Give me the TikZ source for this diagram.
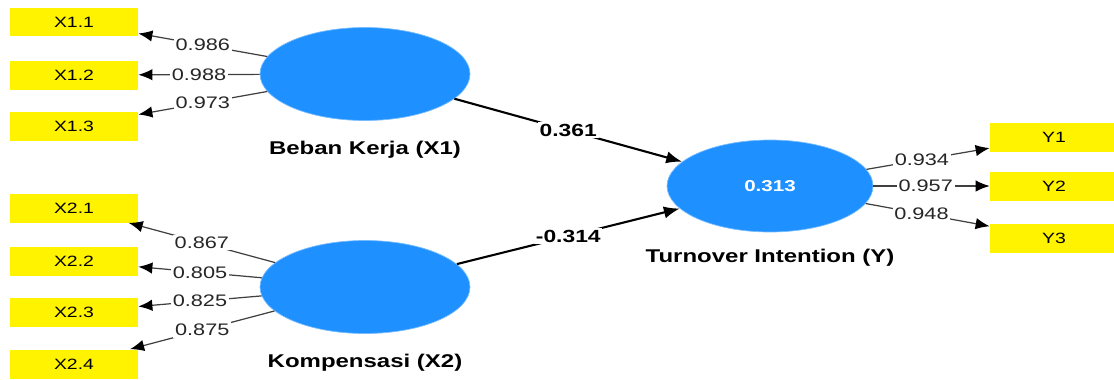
\documentclass[tikz,border=0pt]{standalone}
\usepackage{fontspec}
\setmainfont{Liberation Sans}[FakeStretch=1.3]
\usetikzlibrary{positioning,shapes.geometric,arrows.meta}
\definecolor{lvblue}{RGB}{30,144,255}
\definecolor{mvyellow}{RGB}{255,243,0}
\tikzstyle{indicator} = [rectangle, minimum width=2.56cm, minimum height=0.58cm, inner sep=0pt, text centered, fill=mvyellow, font=\fontsize{8.5}{10}\selectfont]
\tikzstyle{latent} = [ellipse, minimum width=4.2cm, minimum height=1.86cm, fill=lvblue, draw=lvblue!60!white, text=white, font=\bfseries\fontsize{9}{10}\selectfont]
\tikzstyle{lvname} = [font=\bfseries\fontsize{10.5}{12}\selectfont]
\tikzstyle{loading} = [draw=black!75, line width=0.7pt, -{Latex[length=8pt,width=6.5pt,color=black]}]
\tikzstyle{structural} = [draw=black, line width=1.2pt, -{Latex[length=9pt,width=7pt]}]
\tikzstyle{lval} = [fill=white, inner sep=1pt, text=black!85, font=\fontsize{9.5}{11}\selectfont]
\tikzstyle{pval} = [fill=white, inner sep=1pt, font=\bfseries\fontsize{10}{12}\selectfont]

\begin{document}
\begin{tikzpicture}[x=0.02cm, y=-0.02cm]
\useasboundingbox (0,0) rectangle (1114,379);

% latent variables
\node (lv1) [latent] at (365,74) {};
\node (lv2) [latent] at (365,287) {};
\node (lvy) [latent, minimum width=4.12cm, minimum height=1.84cm] at (770,186) {0.313};
\node [lvname, below=0.28cm of lv1] {Beban Kerja (X1)};
\node [lvname, below=0.28cm of lv2] {Kompensasi (X2)};
\node [lvname, below=0.22cm of lvy] {Turnover Intention (Y)};

% indicators
\node (x11) [indicator] at (74,22) {X1.1};
\node (x12) [indicator] at (74,75) {X1.2};
\node (x13) [indicator] at (74,126) {X1.3};
\node (x21) [indicator] at (74,208) {X2.1};
\node (x22) [indicator] at (74,261) {X2.2};
\node (x23) [indicator] at (74,312) {X2.3};
\node (x24) [indicator] at (74,364) {X2.4};
\node (y1) [indicator] at (1054,137) {Y1};
\node (y2) [indicator] at (1054,186) {Y2};
\node (y3) [indicator] at (1054,238) {Y3};

% outer loadings
\draw [loading] (lv1) -- node[lval, pos=0.5] {0.986} (x11);
\draw [loading] (lv1) -- node[lval, pos=0.5] {0.988} (x12);
\draw [loading] (lv1) -- node[lval, pos=0.5] {0.973} (x13);
\draw [loading] (lv2) -- node[lval, pos=0.5] {0.867} (x21);
\draw [loading] (lv2) -- node[lval, pos=0.5] {0.805} (x22);
\draw [loading] (lv2) -- node[lval, pos=0.5] {0.825} (x23);
\draw [loading] (lv2) -- node[lval, pos=0.5] {0.875} (x24);
\draw [loading] (lvy) -- node[lval, pos=0.45] {0.934} (y1);
\draw [loading] (lvy) -- node[lval, pos=0.45] {0.957} (y2);
\draw [loading] (lvy) -- node[lval, pos=0.45] {0.948} (y3);

% path coefficients
\draw [structural] (lv1) -- node[pval, pos=0.5] {0.361} (lvy);
\draw [structural] (lv2) -- node[pval, pos=0.5] {-0.314} (lvy);

\end{tikzpicture}
\end{document}
